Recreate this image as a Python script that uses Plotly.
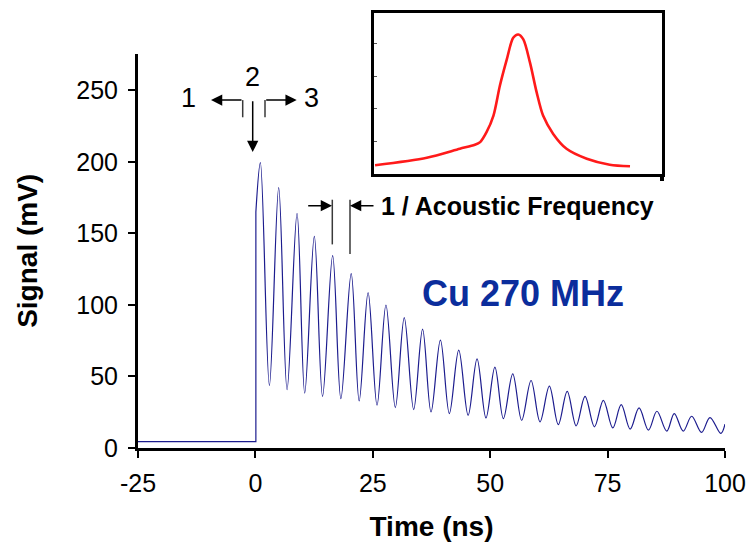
import plotly.graph_objects as go

# ---- main waveform (baseline, step, then peak/trough extrema) ----
base_t = [-25, 0.1, 0.1]
base_v = [4.5, 4.5, 165]

osc_t = [0.1, 1.06, 2.98, 4.96, 6.74, 8.87, 10.5, 12.55, 14.3, 16.45, 18.2, 20.4, 22.1,
         24.0, 25.9, 27.8, 29.8, 31.7, 33.7, 35.6, 37.4, 39.4, 41.3, 43.3, 45.3, 47.2, 49.1,
         51.0, 52.8, 54.8, 56.7, 58.7, 60.6, 62.6, 64.5, 66.4, 68.3, 70.2, 72.2, 74.1, 76.1,
         77.9, 79.8, 81.7, 83.7, 85.5, 87.6, 89.2, 91.1, 92.9, 95.0, 96.8, 99.1, 100.0]
osc_v = [165, 199.5, 43.7, 182, 40.8, 164, 38.4, 148, 36.1, 134.5, 34.5, 122, 32.9,
         108.6, 29.9, 100, 28.3, 91.2, 26.9, 83.1, 25.2, 75.5, 24.1, 68.5, 22.9, 62.3, 21.0,
         56.5, 20.6, 51.9, 19.4, 47.2, 18.3, 43.3, 16.4, 39.6, 15.5, 36.1, 14.8, 33.3, 14.1,
         30.3, 13.2, 28.0, 12.5, 25.7, 11.8, 24.1, 11.8, 22.2, 10.9, 21.3, 10.2, 16.7]

x_ticks = [-25, 0, 25, 50, 75, 100]
y_ticks = [0, 50, 100, 150, 200, 250]

# ---- inset spectrum (frequency in MHz, amplitude a.u.) ----
spec_f = [2, 99, 161, 189, 199, 211, 224, 236, 249, 261, 270.6, 280, 292.5, 305, 317,
          336, 361, 399, 442, 480]
spec_a = [0.266, 0.498, 0.774, 0.896, 0.979, 1.284, 1.795, 2.713, 3.526, 4.19, 4.29, 4.14,
          3.425, 2.508, 1.795, 1.232, 0.774, 0.468, 0.284, 0.235]

W, H = 750, 548
L, R, T, B = 138, 25, 10, 100
PW, PH = W - L - R, H - T - B
MAIN_TOP = 51


def px(xp):
    return (xp - L) / PW


def py(yp):
    return (H - B - yp) / PH


FONT = "Liberation Sans, Arial, Helvetica, sans-serif"
NAVY = "#1c1c8e"
GREY = "#3a3a3a"

fig = go.Figure()
fig.add_trace(go.Scatter(x=base_t, y=base_v, mode="lines",
                         line=dict(color=NAVY, width=1.2), xaxis="x", yaxis="y",
                         showlegend=False))
fig.add_trace(go.Scatter(x=osc_t, y=osc_v, mode="lines",
                         line=dict(color=NAVY, width=1.2, shape="spline", smoothing=1.0),
                         xaxis="x", yaxis="y", showlegend=False))
fig.add_trace(go.Scatter(x=spec_f, y=spec_a, mode="lines",
                         line=dict(color="#ff1a1a", width=2.6, shape="spline", smoothing=0.8),
                         xaxis="x2", yaxis="y2", showlegend=False))

main_dom_top = (H - B - MAIN_TOP) / PH

fig.update_layout(
    width=W, height=H,
    margin=dict(l=L, r=R, t=T, b=B, pad=0),
    paper_bgcolor="white", plot_bgcolor="rgba(0,0,0,0)",
    font=dict(family=FONT, size=25, color="black"),
    xaxis=dict(domain=[0, 1], range=[-25, 100], tickvals=x_ticks,
               ticktext=[str(v) for v in x_ticks],
               showgrid=False, zeroline=False, showline=True, linecolor="black",
               linewidth=3, ticks="outside", ticklen=7, tickwidth=2, tickcolor="black",
               tickfont=dict(size=25), anchor="y", automargin=False,
               ticklabelstandoff=4,
               title=dict(text="<b>Time (ns)</b>", font=dict(size=28), standoff=21)),
    yaxis=dict(domain=[0, main_dom_top], range=[0, 275.7], tickvals=y_ticks,
               ticktext=[str(v) for v in y_ticks],
               showgrid=False, zeroline=False, showline=True, linecolor="black",
               linewidth=3, ticks="outside", ticklen=7, tickwidth=2, tickcolor="black",
               tickfont=dict(size=25), anchor="x", automargin=False,
               ticklabelstandoff=5,
               title=dict(text="<b>Signal (mV)</b>", font=dict(size=28), standoff=31)),
    xaxis2=dict(domain=[px(374), px(662)], range=[0, 540], anchor="y2",
                showgrid=False, zeroline=False, showline=True, mirror=True,
                linecolor="black", linewidth=2.5, tickvals=[540], ticktext=[""],
                ticks="outside", ticklen=4, tickwidth=4, tickcolor="black"),
    yaxis2=dict(domain=[py(172), 1], range=[0, 4.954], anchor="x2",
                showgrid=False, zeroline=False, showline=True, mirror=True,
                linecolor="black", linewidth=2.5, tickvals=[1, 2, 3, 4],
                ticktext=["", "", "", ""], ticks="inside", ticklen=3, tickwidth=1,
                tickcolor="#555555"),
)

shapes = []


def seg(x0, y0, x1, y1, w=1.5):
    shapes.append(dict(type="line", xref="paper", yref="paper",
                       x0=px(x0), y0=py(y0), x1=px(x1), y1=py(y1),
                       line=dict(color=GREY, width=w)))


# bracket stems for the 1/2/3 marker
seg(242.7, 115, 242.7, 97.7)
seg(265, 115, 265, 97.7)
# period markers
seg(332.3, 198, 332.3, 243)
seg(350, 198, 350, 252.7)
fig.update_layout(shapes=shapes)

anns = []


def arrow(tx, ty, dx, dy):
    anns.append(dict(x=px(tx), y=py(ty), xref="paper", yref="paper", text="",
                     showarrow=True, ax=dx, ay=dy, arrowhead=2, arrowsize=1.5,
                     arrowwidth=1.5, arrowcolor="black", standoff=0, startstandoff=0))


def label(xp, yp, text, size, color="black", xanchor="center"):
    anns.append(dict(x=px(xp), y=py(yp), xref="paper", yref="paper", text=text,
                     showarrow=False, xanchor=xanchor, yanchor="middle",
                     font=dict(family=FONT, size=size, color=color)))


arrow(211, 97.7, 32, 0)
arrow(296.7, 97.7, -32, 0)
arrow(252.7, 150, 0, -52.3)
arrow(332, 204, -25.3, 0)
arrow(350, 204, 25, 0)

label(188, 96, "1", 27)
label(252.7, 74, "2", 27)
label(311.7, 96, "3", 27)
label(379, 204, "<b>1 / Acoustic Frequency</b>", 25, xanchor="left")
label(523, 292, "<b>Cu 270 MHz</b>", 36, color="#0b2d9c")

fig.update_layout(annotations=anns)

fig.write_html("out.html", config={"displayModeBar": False},
               post_script="document.body.style.margin='0px';")
